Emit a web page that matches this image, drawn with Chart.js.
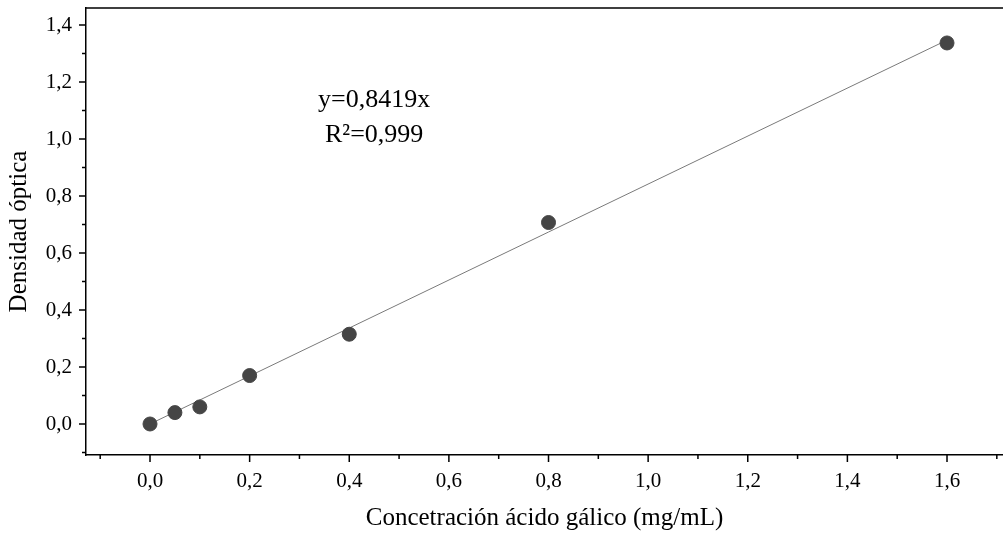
<!DOCTYPE html>
<html>
<head>
<meta charset="utf-8">
<script src="https://cdn.jsdelivr.net/npm/chart.js@4.4.0/dist/chart.umd.min.js"></script>
<style>
    html, body { margin: 0; padding: 0; background: #fff; }
    #wrap { width: 1003px; height: 533px; }
</style>
</head>
<body>
<div id="wrap"><canvas id="chart" width="1003" height="533"></canvas></div>
<script>
// Measured points
const concentrations = [0, 0.05, 0.1, 0.2, 0.4, 0.8, 1.6];
const densities = [0, 0.04, 0.06, 0.17, 0.315, 0.707, 1.337];

// Linear fit y = 0,8419x (end points)
const fitX = [0, 1.6];
const fitY = [0, 1.347];

const xTicks = [0, 0.2, 0.4, 0.6, 0.8, 1.0, 1.2, 1.4, 1.6];
const yTicks = [0, 0.2, 0.4, 0.6, 0.8, 1.0, 1.2, 1.4];
const xMinor = [-0.1, 0.1, 0.3, 0.5, 0.7, 0.9, 1.1, 1.3, 1.5, 1.7];
const yMinor = [-0.1, 0.1, 0.3, 0.5, 0.7, 0.9, 1.1, 1.3];

const fitLabels = ['y=0,8419x', 'R²=0,999'];

const SERIF = '"Liberation Serif", "Times New Roman", serif';
const fmt = v => v.toFixed(1).replace('.', ',');

// Tick marks, top frame and fit equation
const frameAndTicks = {
    id: 'frameAndTicks',
    afterDraw(chart) {
        const { ctx, chartArea: a, scales: { x, y } } = chart;
        ctx.save();
        ctx.strokeStyle = '#000';
        ctx.lineWidth = 1.5;
        ctx.beginPath();
        ctx.moveTo(a.left, a.top);
        ctx.lineTo(a.right, a.top);
        const tick = (vals, len) => {
            vals.forEach(v => {
                const px = x.getPixelForValue(v);
                ctx.moveTo(px, a.bottom);
                ctx.lineTo(px, a.bottom + len);
            });
        };
        tick(xTicks, 7);
        tick(xMinor, 4);
        const ytick = (vals, len) => {
            vals.forEach(v => {
                const py = y.getPixelForValue(v);
                ctx.moveTo(a.left, py);
                ctx.lineTo(a.left - len, py);
            });
        };
        ytick(yTicks, 7);
        ytick(yMinor, 4);
        ctx.stroke();

        ctx.fillStyle = '#000';
        ctx.font = '26px ' + SERIF;
        ctx.textAlign = 'center';
        ctx.textBaseline = 'middle';
        ctx.fillText(fitLabels[0], x.getPixelForValue(0.45), y.getPixelForValue(1.135));
        ctx.fillText(fitLabels[1], x.getPixelForValue(0.45), y.getPixelForValue(1.015));
        ctx.restore();
    }
};

new Chart(document.getElementById('chart'), {
    type: 'scatter',
    data: {
        datasets: [
            {
                type: 'line',
                data: fitX.map((v, i) => ({ x: v, y: fitY[i] })),
                borderColor: '#7a7a7a',
                borderWidth: 1,
                pointRadius: 0,
                fill: false,
                order: 2
            },
            {
                data: concentrations.map((v, i) => ({ x: v, y: densities[i] })),
                backgroundColor: '#454545',
                borderColor: '#454545',
                pointRadius: 7,
                order: 1
            }
        ]
    },
    options: {
        responsive: false,
        animation: false,
        layout: { autoPadding: false, padding: { top: 8, right: 0, left: 0, bottom: 0 } },
        plugins: {
            legend: { display: false },
            tooltip: { enabled: false }
        },
        scales: {
            x: {
                type: 'linear',
                min: -0.1285,
                max: 1.7124,
                afterBuildTicks: s => { s.ticks = xTicks.map(v => ({ value: v })); },
                afterFit: s => {
                    s.height = 78;
                    s.paddingLeft = 0;
                    s.paddingRight = 0;
                },
                grid: { display: true, drawOnChartArea: false, drawTicks: false },
                border: { display: true, color: '#000', width: 1.5 },
                ticks: {
                    padding: 14,
                    color: '#000',
                    font: { family: SERIF, size: 21 },
                    callback: v => fmt(v)
                },
                title: {
                    display: true,
                    text: 'Concetración ácido gálico (mg/mL)',
                    color: '#000',
                    font: { family: SERIF, size: 25 },
                    padding: { top: 4, bottom: 0 }
                }
            },
            y: {
                type: 'linear',
                min: -0.1088,
                max: 1.4597,
                afterBuildTicks: s => { s.ticks = yTicks.map(v => ({ value: v })); },
                afterFit: s => {
                    s.width = 86;
                    s.paddingTop = 0;
                    s.paddingBottom = 0;
                },
                grid: { display: true, drawOnChartArea: false, drawTicks: false },
                border: { display: true, color: '#000', width: 1.5 },
                ticks: {
                    padding: 14,
                    color: '#000',
                    font: { family: SERIF, size: 21 },
                    callback: v => fmt(v)
                },
                title: {
                    display: true,
                    text: 'Densidad óptica',
                    color: '#000',
                    font: { family: SERIF, size: 25 },
                    padding: { top: 4, bottom: 4 }
                }
            }
        }
    },
    plugins: [frameAndTicks]
});
</script>
</body>
</html>
